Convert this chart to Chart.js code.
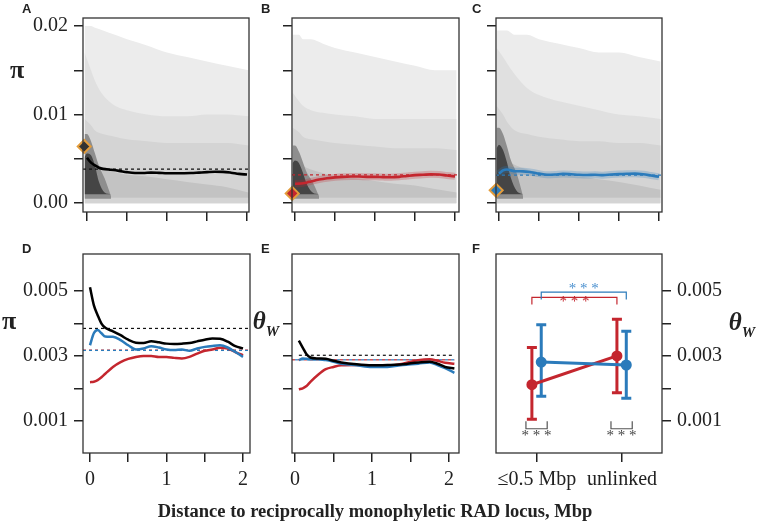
<!DOCTYPE html>
<html>
<head>
<meta charset="utf-8">
<title>Diversity near reciprocally monophyletic RAD loci</title>
<script src="https://cdn.jsdelivr.net/npm/chart.js@4.4.1/dist/chart.umd.min.js"></script>
<style>
  body { margin: 0; background: #fff; }
  #fig { position: relative; width: 757px; height: 521px; overflow: hidden; font-family: "Liberation Serif", "Times New Roman", serif; color: #222; }
  #fig canvas { position: absolute; left: 0; top: 0; }
  .tag { position: absolute; font: bold 13px "Liberation Sans", Arial, sans-serif; line-height: 1; }
  .ylab { position: absolute; font-weight: bold; line-height: 1; transform: translate(-50%, -50%); white-space: nowrap; }
  .pi { font-size: 26px; }
  .theta { font-size: 25px; font-style: italic; }
  .theta .sub { font-size: 15px; position: relative; top: 7px; }
  #xtitle { position: absolute; left: 375px; top: 511px; transform: translate(-50%, -50%); font-weight: bold; font-size: 18.5px; white-space: nowrap; }
</style>
</head>
<body>
<div id="fig">
  <canvas id="cA" width="757" height="521"></canvas>
  <canvas id="cB" width="757" height="521"></canvas>
  <canvas id="cC" width="757" height="521"></canvas>
  <canvas id="cD" width="757" height="521"></canvas>
  <canvas id="cE" width="757" height="521"></canvas>
  <canvas id="cF" width="757" height="521"></canvas>

  <div class="tag" style="left:22px;top:2px">A</div>
  <div class="tag" style="left:261px;top:2px">B</div>
  <div class="tag" style="left:472px;top:2px">C</div>
  <div class="tag" style="left:22px;top:242px">D</div>
  <div class="tag" style="left:261px;top:242px">E</div>
  <div class="tag" style="left:472px;top:242px">F</div>

  <div class="ylab pi" style="left:17px;top:70px">π</div>
  <div class="ylab pi" style="left:9px;top:321px">π</div>
  <div class="ylab theta" style="left:266px;top:320px">θ<span class="sub">W</span></div>
  <div class="ylab theta" style="left:742px;top:321px">θ<span class="sub">W</span></div>

  <div id="xtitle">Distance to reciprocally monophyletic RAD locus, Mbp</div>
</div>

<script>
// --- data ---

// smoothed nucleotide diversity (pi) vs distance, Mbp (panels A-D)
const distX  = [0, 0.05, 0.1, 0.15, 0.2, 0.3, 0.4, 0.5, 0.6, 0.7, 0.8, 0.9, 1.0, 1.1, 1.2, 1.3, 1.4, 1.5, 1.6, 1.7, 1.8, 1.9, 2.0];
const piAll  = [0.00512, 0.00457, 0.00426, 0.00400, 0.00387, 0.00376, 0.00364, 0.00350, 0.00341, 0.00340, 0.00345, 0.00342, 0.00338, 0.00337, 0.00338, 0.00340, 0.00345, 0.00350, 0.00354, 0.00353, 0.00344, 0.00330, 0.00323];
const piRed  = [0.00219, 0.00220, 0.00225, 0.00234, 0.00245, 0.00266, 0.00281, 0.00291, 0.00297, 0.00300, 0.00300, 0.00297, 0.00297, 0.00294, 0.00292, 0.00297, 0.00307, 0.00316, 0.00320, 0.00325, 0.00323, 0.00312, 0.00302];
const piBlue = [0.00333, 0.00370, 0.00380, 0.00370, 0.00360, 0.00359, 0.00349, 0.00333, 0.00320, 0.00323, 0.00330, 0.00326, 0.00320, 0.00318, 0.00320, 0.00316, 0.00323, 0.00328, 0.00331, 0.00333, 0.00326, 0.00312, 0.00297];
const piMeans = { all: 0.00385, red: 0.00318, blue: 0.00317 };

// Watterson's theta vs distance (panel E)
const thetaX    = [0.05, 0.1, 0.15, 0.2, 0.3, 0.4, 0.5, 0.6, 0.8, 1.0, 1.2, 1.4, 1.6, 1.75, 1.85, 1.95, 2.07];
const thetaAll  = [0.00347, 0.00326, 0.00305, 0.00295, 0.00292, 0.00291, 0.00285, 0.00280, 0.00274, 0.00271, 0.00272, 0.00274, 0.00280, 0.00282, 0.00276, 0.00266, 0.00261];
const thetaBlue = [0.00287, 0.00292, 0.00291, 0.00290, 0.00290, 0.00287, 0.00282, 0.00276, 0.00271, 0.00266, 0.00266, 0.00272, 0.00276, 0.00280, 0.00272, 0.00262, 0.00248];
const thetaRed  = [0.00197, 0.00200, 0.00207, 0.00220, 0.00242, 0.00259, 0.00266, 0.00271, 0.00272, 0.00269, 0.00269, 0.00276, 0.00287, 0.00290, 0.00285, 0.00279, 0.00276];
const thetaMeans = { all: 0.00302, red: 0.00288, blue: 0.00288 };

// pi at the monophyletic locus itself (diamonds in A, B, C)
const locusPi = [0.0064, 0.0011, 0.00145];

// hexbin density envelopes (top of each grey level) for A, B, C
const hexX     = [-0.03, 0.05, 0.1, 0.2, 0.35, 0.5, 0.75, 1.0, 1.25, 1.5, 1.75, 2.02];
const hexCoreX = [-0.03, 0.0, 0.05, 0.1, 0.15, 0.22, 0.3];
const hexA = {
  sparse: [0.0200, 0.0200, 0.0198, 0.0195, 0.0190, 0.0185, 0.0178, 0.0170, 0.0165, 0.0160, 0.0155, 0.0150],
  light:  [0.0170, 0.0150, 0.0138, 0.0122, 0.0110, 0.0105, 0.0100, 0.0098, 0.0098, 0.0100, 0.0100, 0.0098],
  solid:  [0.0095, 0.0088, 0.0082, 0.0078, 0.0075, 0.0072, 0.0070, 0.0068, 0.0068, 0.0068, 0.0068, 0.0065],
  mid:    [0.0040, 0.0045, 0.0045, 0.0040, 0.0035, 0.0032, 0.0030, 0.0027, 0.0024, 0.0021, 0.0018, 0.0012],
  core:   [0.0078, 0.0078, 0.0070, 0.0056, 0.0042, 0.0028, 0.0008],
  dark:   [0.0052, 0.0056, 0.0054, 0.0042, 0.0024, 0.0012, 0.0010]
};
const hexB = {
  sparse: [0.0190, 0.0190, 0.0185, 0.0185, 0.0180, 0.0175, 0.0170, 0.0165, 0.0160, 0.0155, 0.0150, 0.0150],
  light:  [0.0125, 0.0115, 0.0110, 0.0105, 0.0102, 0.0100, 0.0098, 0.0095, 0.0095, 0.0095, 0.0095, 0.0095],
  solid:  [0.0085, 0.0080, 0.0075, 0.0072, 0.0070, 0.0068, 0.0066, 0.0064, 0.0062, 0.0062, 0.0062, 0.0060],
  mid:    [0.0045, 0.0045, 0.0042, 0.0038, 0.0034, 0.0030, 0.0028, 0.0025, 0.0022, 0.0020, 0.0016, 0.0012],
  core:   [0.0065, 0.0065, 0.0058, 0.0046, 0.0034, 0.0024, 0.0008],
  dark:   [0.0045, 0.0048, 0.0045, 0.0034, 0.0021, 0.0012, 0.0010]
};
const hexC = {
  sparse: [0.0195, 0.0195, 0.0195, 0.0190, 0.0190, 0.0185, 0.0180, 0.0175, 0.0170, 0.0170, 0.0165, 0.0160],
  light:  [0.0175, 0.0165, 0.0158, 0.0145, 0.0130, 0.0122, 0.0115, 0.0110, 0.0105, 0.0100, 0.0098, 0.0095],
  solid:  [0.0110, 0.0100, 0.0092, 0.0082, 0.0078, 0.0075, 0.0072, 0.0070, 0.0070, 0.0068, 0.0068, 0.0065],
  mid:    [0.0050, 0.0050, 0.0048, 0.0043, 0.0038, 0.0035, 0.0032, 0.0030, 0.0027, 0.0024, 0.0020, 0.0015],
  core:   [0.0085, 0.0085, 0.0078, 0.0064, 0.0048, 0.0034, 0.0008],
  dark:   [0.0062, 0.0066, 0.0060, 0.0046, 0.0028, 0.0014, 0.0010]
};

// panel F: theta_W near (<=0.5 Mbp) vs unlinked, mean and interval
const fCategories = ['≤0.5 Mbp', 'unlinked'];
const fRedMean  = [0.00211, 0.00300];
const fRedLo    = [0.00104, 0.00186];
const fRedHi    = [0.00326, 0.00413];
const fBlueMean = [0.00281, 0.00272];
const fBlueLo   = [0.00175, 0.00169];
const fBlueHi   = [0.00396, 0.00376];

// tick values and labels
const distTicks   = [0, 0.5, 1, 1.5, 2];
const distLabels  = ['0', '', '1', '', '2'];
const piTopTicks  = [0, 0.005, 0.01, 0.015, 0.02];
const piTopLabels = ['0.00', '', '0.01', '', '0.02'];
const divTicks    = [0.001, 0.002, 0.003, 0.004, 0.005];
const divLabels   = ['0.001', '', '0.003', '', '0.005'];
const fTicks      = [1, 2];

// --- styling ---
const SERIF = '"Liberation Serif", "Times New Roman", serif';
const INK = '#222';
const RED = '#c4262e';
const BLUE = '#2b7bbb';
const EDGE = '#e39c3b';
const AX_W = 60, AX_H = 40;
const CW = 757, CH = 521;

const framePlugin = {
  id: 'frame',
  afterDatasetsDraw(chart) {
    const a = chart.chartArea, ctx = chart.ctx;
    ctx.save();
    ctx.strokeStyle = '#333';
    ctx.lineWidth = 1.3;
    ctx.strokeRect(a.left, a.top, a.right - a.left, a.bottom - a.top);
    ctx.restore();
  }
};

function axis(pos, range, ticks, labels) {
  const horizontal = pos === 'bottom';
  return {
    type: 'linear', position: pos, min: range[0], max: range[1],
    afterBuildTicks: s => { s.ticks = ticks.map(v => ({ value: v })); },
    afterFit: s => { if (horizontal) s.height = AX_H; else s.width = AX_W; },
    grid: { drawOnChartArea: false, drawTicks: true, tickLength: 9, color: INK, lineWidth: 1.5 },
    border: { display: false },
    ticks: {
      autoSkip: false, maxRotation: 0, padding: 6, color: INK,
      font: { family: SERIF, size: 20 },
      callback: (v, i) => labels ? labels[i] : ''
    }
  };
}

function pts(xs, ys) { return xs.map((x, i) => ({ x, y: ys[i] })); }
function hline(range, y) { return [{ x: range[0], y }, { x: range[1], y }]; }

function area(xs, ys, color, base) {
  return { data: pts(xs, ys), backgroundColor: color, borderColor: 'transparent', borderWidth: 0,
           fill: { value: base }, cubicInterpolationMode: 'monotone' };
}
function hexLayers(h) {
  return [
    area(hexX, h.sparse, '#ececec', 0),
    area(hexX, h.light, '#e0e0e0', 0),
    area(hexX, h.solid, '#d4d4d4', 0),
    area(hexX, h.mid, '#c3c3c3', 0.0006),
    area(hexCoreX, h.core, '#8e8e8e', 0.0005),
    area(hexCoreX, h.dark, '#454545', 0.0010)
  ];
}
function dashed(range, y, color, offset) {
  return { data: hline(range, y), borderColor: color, borderWidth: 1.2, borderDash: [3, 3],
           borderDashOffset: offset || 0, clip: false };
}
function curve(xs, ys, color, width) {
  return { data: pts(xs, ys), borderColor: color, borderWidth: width || 2.5, cubicInterpolationMode: 'monotone' };
}
function diamond(y, fill) {
  return { data: [{ x: -0.035, y }], showLine: false, pointStyle: 'rectRot', pointRadius: 6.5,
           pointBackgroundColor: fill, pointBorderColor: EDGE, pointBorderWidth: 2, clip: false };
}

function panel(id, box, xCfg, yCfg, datasets, extraPlugins) {
  const [l, t, r, b] = box;
  const right = yCfg.position === 'right';
  const padding = right
    ? { left: l, top: t, right: CW - r - AX_W, bottom: CH - b - AX_H }
    : { left: l - AX_W, top: t, right: CW - r, bottom: CH - b - AX_H };
  // first dataset in the list is painted first (bottom)
  datasets.forEach((d, i) => { d.order = datasets.length - i; if (d.pointRadius === undefined) d.pointRadius = 0; });
  return new Chart(document.getElementById(id), {
    type: 'line',
    data: { datasets },
    options: {
      responsive: false, animation: false, events: [],
      layout: { padding },
      plugins: { legend: { display: false }, tooltip: { enabled: false } },
      scales: {
        x: axis('bottom', xCfg.range, xCfg.ticks, xCfg.labels),
        y: axis(yCfg.position, yCfg.range, yCfg.ticks, yCfg.labels)
      }
    },
    plugins: [framePlugin].concat(extraPlugins || [])
  });
}

// --- top row: hexbin density + smoothed pi ---
const topY = [-0.001, 0.0209];
const rangeA = [-0.05, 2.025], rangeB = [-0.0375, 2.05], rangeC = [-0.0375, 2.0375];

panel('cA', [83, 14, 249, 212],
  { range: rangeA, ticks: distTicks, labels: null },
  { position: 'left', range: topY, ticks: piTopTicks, labels: piTopLabels },
  [...hexLayers(hexA),
   dashed(rangeA, piMeans.all, '#111'),
   curve(distX, piAll, '#000', 2.6),
   diamond(locusPi[0], '#333')]);

panel('cB', [292, 14, 459, 212],
  { range: rangeB, ticks: distTicks, labels: null },
  { position: 'left', range: topY, ticks: piTopTicks, labels: null },
  [...hexLayers(hexB),
   dashed(rangeB, piMeans.red, RED),
   curve(distX, piRed, 'rgba(196,38,46,0.25)', 7),
   curve(distX, piRed, RED, 2.6),
   diamond(locusPi[1], RED)]);

panel('cC', [496, 14, 662, 212],
  { range: rangeC, ticks: distTicks, labels: null },
  { position: 'left', range: topY, ticks: piTopTicks, labels: null },
  [...hexLayers(hexC),
   dashed(rangeC, piMeans.blue, BLUE),
   curve(distX, piBlue, 'rgba(43,123,187,0.25)', 7),
   curve(distX, piBlue, BLUE, 2.6),
   diamond(locusPi[2], BLUE)]);

// --- bottom row ---
const botY = [0, 0.00615];
const rangeD = [-0.0915, 2.0915], rangeE = [-0.039, 2.13];

panel('cD', [83, 254, 250, 453],
  { range: rangeD, ticks: distTicks, labels: distLabels },
  { position: 'left', range: botY, ticks: divTicks, labels: divLabels },
  [dashed(rangeD, piMeans.all, '#111'),
   dashed(rangeD, piMeans.red, RED),
   dashed(rangeD, piMeans.blue, BLUE),
   curve(distX, piRed, RED),
   curve(distX, piBlue, BLUE),
   curve(distX, piAll, '#000')]);

panel('cE', [292, 254, 459, 453],
  { range: rangeE, ticks: distTicks, labels: distLabels },
  { position: 'left', range: botY, ticks: divTicks, labels: null },
  [dashed([thetaX[0], thetaX[thetaX.length - 1]], thetaMeans.all, '#111'),
   dashed([rangeE[0], thetaX[thetaX.length - 1]], thetaMeans.red, RED),
   dashed([rangeE[0], thetaX[thetaX.length - 1]], thetaMeans.blue, BLUE, 3),
   curve(thetaX, thetaRed, RED),
   curve(thetaX, thetaBlue, BLUE),
   curve(thetaX, thetaAll, '#000')]);

// --- panel F: near vs unlinked ---
const fSeries = [
  { color: RED, dodge: -0.06, mean: fRedMean, lo: fRedLo, hi: fRedHi },
  { color: BLUE, dodge: 0.05, mean: fBlueMean, lo: fBlueLo, hi: fBlueHi }
];
const fX = s => fTicks.map(t => t + s.dodge);

// significance brackets (annotation levels on the theta axis)
const redBar = { bar: 0.00481, end: 0.00459, stars: 0.00468 };
const blueBar = { bar: 0.00497, end: 0.00474, stars: 0.00508 };
const pairBar = { bar: 0.00075, end: 0.00098, stars: 0.00052, pad: 0.07 };

function bracket(x1, x2, end, bar, color) {
  return { data: [{ x: x1, y: end }, { x: x1, y: bar }, { x: x2, y: bar }, { x: x2, y: end }],
           borderColor: color, borderWidth: 1.2, tension: 0 };
}

const errorBars = {
  id: 'errorBars',
  beforeDatasetsDraw(chart) {
    const { ctx, scales: { x, y } } = chart;
    ctx.save();
    ctx.lineWidth = 3;
    fSeries.forEach(s => {
      ctx.strokeStyle = s.color;
      fX(s).forEach((xv, i) => {
        const px = x.getPixelForValue(xv);
        const top = y.getPixelForValue(s.hi[i]), bot = y.getPixelForValue(s.lo[i]);
        ctx.beginPath();
        ctx.moveTo(px, top); ctx.lineTo(px, bot);
        ctx.moveTo(px - 5, top); ctx.lineTo(px + 5, top);
        ctx.moveTo(px - 5, bot); ctx.lineTo(px + 5, bot);
        ctx.stroke();
      });
    });
    ctx.restore();
  },
  afterDatasetsDraw(chart) {
    const { ctx, scales: { x, y } } = chart;
    const rx = fX(fSeries[0]), bx = fX(fSeries[1]);
    ctx.save();
    ctx.font = '15px ' + SERIF;
    ctx.textAlign = 'center';
    ctx.textBaseline = 'middle';
    const star = (xv, yv, color) => {
      ctx.fillStyle = color;
      ctx.fillText('* * *', x.getPixelForValue(xv), y.getPixelForValue(yv));
    };
    star((rx[0] + rx[1]) / 2, redBar.stars, RED);
    star((bx[0] + bx[1]) / 2, blueBar.stars, '#4a90cf');
    fTicks.forEach((t, i) => star((rx[i] + bx[i]) / 2, pairBar.stars, '#444'));
    ctx.restore();
  }
};

const rX = fX(fSeries[0]), bX = fX(fSeries[1]);
panel('cF', [496, 254, 662, 453],
  { range: [0.518, 2.47], ticks: fTicks, labels: fCategories },
  { position: 'right', range: botY, ticks: divTicks, labels: divLabels },
  [bracket(rX[0], rX[1], redBar.end, redBar.bar, RED),
   bracket(bX[0], bX[1], blueBar.end, blueBar.bar, BLUE),
   ...fTicks.map((t, i) => bracket(rX[i] - pairBar.pad, bX[i] + pairBar.pad, pairBar.end, pairBar.bar, '#555')),
   { data: pts(rX, fRedMean), borderColor: RED, borderWidth: 3, pointRadius: 4, pointBackgroundColor: RED, pointBorderColor: RED },
   { data: pts(bX, fBlueMean), borderColor: BLUE, borderWidth: 3, pointRadius: 4, pointBackgroundColor: BLUE, pointBorderColor: BLUE }],
  [errorBars]);
</script>
</body>
</html>
